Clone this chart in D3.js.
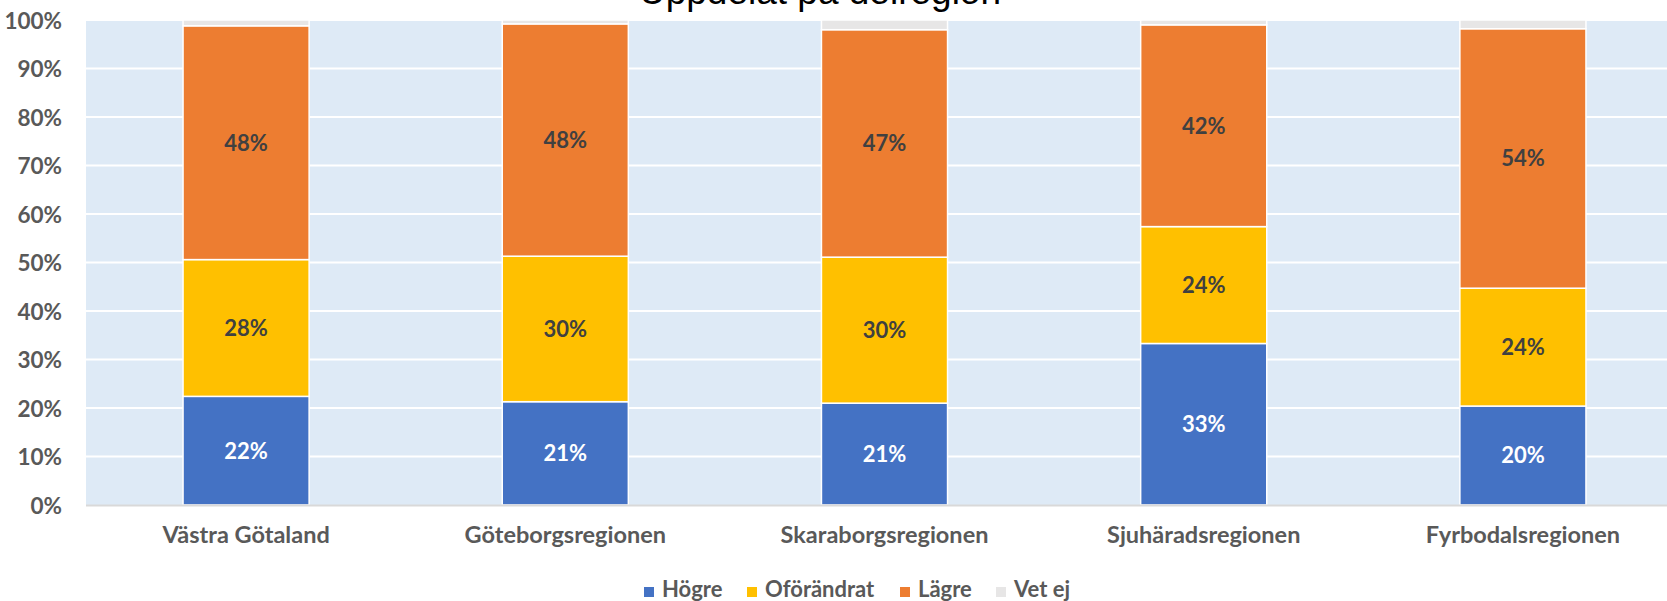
<!DOCTYPE html>
<html>
<head>
<meta charset="utf-8">
<script src="https://cdn.jsdelivr.net/npm/d3@7"></script>
<style>
    body { margin: 0; background: #fff; overflow: hidden; }
    .tick-label, .cat-label, .legend-label, .data-label { font-family: Lato, "Open Sans", sans-serif; font-weight: 700; }
</style>
</head>
<body>
<div id="chart-area"></div>
<script>
// data (percent)
var regions = ["Västra Götaland", "Göteborgsregionen", "Skaraborgsregionen", "Sjuhäradsregionen", "Fyrbodalsregionen"];
var seriesNames = ["Högre", "Oförändrat", "Lägre", "Vet ej"];
var hogre = [22.4, 21.3, 21.0, 33.3, 20.4];
var oforandrat = [28.2, 30.0, 30.1, 24.1, 24.3];
var lagre = [48.2, 47.9, 46.9, 41.6, 53.5];
var vetEj = [1.2, 0.8, 2.0, 1.0, 1.8];
var yTicks = [0, 10, 20, 30, 40, 50, 60, 70, 80, 90, 100];
var colors = ["#4472c4", "#ffc000", "#ed7d31", "#e7e6e6"];

//dimensions. NB: the plot runs past the right edge of the window, like the reference
var W = 1667, H = 601;
var margin = { top: 20, left: 86 };
var plotW = 1597, plotH = 485;

var svg = d3.select("#chart-area")
        .append("svg")
        .attr("width", W)
        .attr("height", H);

//build rows for d3.stack
var rows = regions.map((r, i) => ({
    region: r,
    "Högre": hogre[i],
    "Oförändrat": oforandrat[i],
    "Lägre": lagre[i],
    "Vet ej": vetEj[i]
}));
var stacked = d3.stack().keys(seriesNames)(rows);

var x = d3.scaleBand()
        .domain(regions)
        .range([margin.left, margin.left + plotW])
        .paddingInner(0.605)
        .paddingOuter(0.304);

var y = d3.scaleLinear()
        .domain([0, 100])
        .range([margin.top + plotH, margin.top]);

//plot background
svg.append("rect")
    .attr("x", margin.left)
    .attr("y", margin.top)
    .attr("width", plotW)
    .attr("height", plotH)
    .attr("fill", "#deeaf6");

//gridlines
svg.selectAll(".grid")
    .data(yTicks.slice(1))
    .enter()
    .append("line")
    .attr("class", "grid")
    .attr("x1", margin.left)
    .attr("x2", margin.left + plotW)
    .attr("y1", d => y(d))
    .attr("y2", d => y(d))
    .attr("stroke", "#ffffff")
    .attr("stroke-width", 2);

//y axis labels
var yAxis = d3.axisLeft(y)
        .tickValues(yTicks)
        .tickFormat(d => d + "%")
        .tickSize(0)
        .tickPadding(0);
var yg = svg.append("g")
        .attr("transform", "translate(62,0)")
        .call(yAxis);
yg.select(".domain").remove();
yg.selectAll("text")
    .attr("class", "tick-label")
    .attr("fill", "#595959")
    .style("font-size", "22.5px")
    .attr("dy", "0.36em");

//bars
var layers = svg.selectAll(".layer")
        .data(stacked)
        .enter()
        .append("g")
        .attr("class", "layer")
        .attr("fill", (d, i) => colors[i]);

layers.selectAll("rect")
    .data(d => d)
    .enter()
    .append("rect")
    .attr("x", d => x(d.data.region))
    .attr("width", x.bandwidth())
    .attr("y", d => y(d[1]))
    .attr("height", d => y(d[0]) - y(d[1]))
    .attr("stroke", "#ffffff")
    .attr("stroke-width", 1.5);

//data labels (not for Vet ej)
layers.filter((d, i) => i < 3)
    .selectAll(".data-label")
    .data(d => d.map(v => ({ v: v, key: d.key })))
    .enter()
    .append("text")
    .attr("class", "data-label")
    .attr("x", d => x(d.v.data.region) + x.bandwidth() / 2)
    .attr("y", d => y((d.v[0] + d.v[1]) / 2))
    .attr("dy", "0.36em")
    .attr("text-anchor", "middle")
    .style("font-size", "22px")
    .attr("fill", d => d.key === "Högre" ? "#ffffff" : "#404040")
    .text(d => Math.round(d.v[1] - d.v[0]) + "%");

//bottom axis line + category labels
svg.append("line")
    .attr("x1", margin.left)
    .attr("x2", margin.left + plotW)
    .attr("y1", y(0) + 0.5)
    .attr("y2", y(0) + 0.5)
    .attr("stroke", "#d9d9d9")
    .attr("stroke-width", 2);

var xAxis = d3.axisBottom(x).tickSize(0).tickPadding(0);
var xg = svg.append("g")
        .attr("transform", "translate(0,543)")
        .call(xAxis);
xg.select(".domain").remove();
xg.selectAll("text")
    .attr("class", "cat-label")
    .attr("fill", "#595959")
    .attr("dy", 0)
    .style("font-size", "23.5px");

//title (cut off at the top like the reference)
svg.append("text")
    .attr("x", 820)
    .attr("y", 4)
    .attr("text-anchor", "middle")
    .style("font-family", "'Liberation Sans', Arial, sans-serif")
    .style("font-size", "37px")
    .attr("fill", "#000000")
    .text("Uppdelat på delregion");

//legend
var legendX = [644, 747, 900, 996];
var legend = svg.selectAll(".legend")
        .data(seriesNames)
        .enter()
        .append("g")
        .attr("class", "legend")
        .attr("transform", (d, i) => "translate(" + legendX[i] + ",0)");
legend.append("rect")
    .attr("y", 587)
    .attr("width", 10)
    .attr("height", 10)
    .attr("fill", (d, i) => colors[i]);
legend.append("text")
    .attr("class", "legend-label")
    .attr("x", 18)
    .attr("y", 597)
    .attr("fill", "#595959")
    .style("font-size", "22px")
    .text(d => d);
</script>
</body>
</html>
